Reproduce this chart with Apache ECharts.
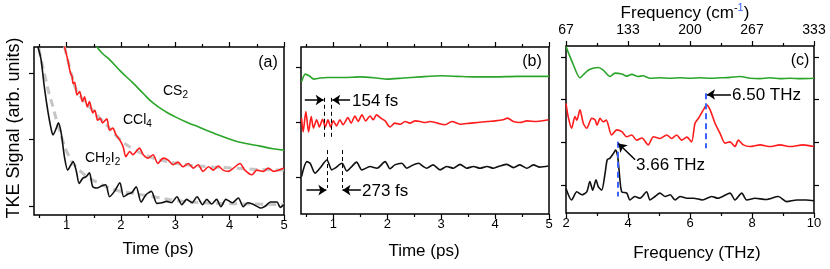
<!DOCTYPE html>
<html><head><meta charset="utf-8">
<script src="https://cdn.jsdelivr.net/npm/echarts@6/dist/echarts.min.js"></script>
<style>html,body{margin:0;padding:0;background:#fff}#c{width:830px;height:269px}</style>
</head><body><div id="c"></div>
<script>
const FONT = '"Liberation Sans", Arial, sans-serif';
// tick values / labels
const timeTicks = [1, 2, 3, 4, 5];
const timeMinor = [0.5, 1.5, 2.5, 3.5, 4.5];
const freqTicks = [2, 4, 6, 8, 10];
const freqMinor = [3, 5, 7, 9];
const cmLabels = ['67', '133', '200', '267', '333'];
const aYTicks = [0, 1, 2];
const bYTicks = [0, 1, 2];
const cYTicks = [0, 1, 2, 3];

// ---- panel (a): TKE signal vs time (ps)
const aCS2 = [[1.55,2.40],[1.65,2.30],[1.79,2.20],[2.0,2.02],[2.22,1.85],[2.4,1.70],[2.59,1.55],[2.84,1.41],[3.0,1.34],[3.21,1.26],[3.45,1.18],[3.69,1.10],[4.06,0.99],[4.3,0.94],[4.56,0.90],[4.8,0.86],[5.0,0.84]];
const aCCl4 = [[0.96,2.40],[1.02,2.20],[1.07,2.00],[1.10,1.95],[1.12,1.84],[1.15,1.86],[1.19,1.67],[1.24,1.72],[1.29,1.57],[1.33,1.64],[1.38,1.49],[1.42,1.57],[1.48,1.40],[1.52,1.44],[1.57,1.29],[1.62,1.32],[1.66,1.25],[1.74,1.31],[1.79,1.14],[1.85,1.17],[1.91,1.07],[1.98,0.99],[2.04,0.89],[2.09,0.74],[2.16,0.82],[2.22,0.77],[2.28,0.82],[2.34,0.87],[2.41,0.77],[2.50,0.72],[2.59,0.77],[2.68,0.64],[2.78,0.72],[2.87,0.69],[2.96,0.62],[3.05,0.66],[3.14,0.59],[3.24,0.64],[3.33,0.57],[3.42,0.62],[3.51,0.52],[3.61,0.59],[3.70,0.54],[3.79,0.60],[3.88,0.54],[3.98,0.52],[4.07,0.57],[4.19,0.64],[4.28,0.54],[4.41,0.47],[4.50,0.54],[4.62,0.52],[4.71,0.57],[4.81,0.52],[4.91,0.54],[5.00,0.57]];
const aCH2I2 = [[0.47,2.40],[0.53,2.20],[0.59,1.79],[0.66,1.40],[0.72,1.14],[0.75,1.07],[0.81,1.17],[0.85,1.25],[0.90,1.10],[0.96,0.74],[1.02,0.54],[1.08,0.62],[1.12,0.67],[1.18,0.52],[1.23,0.34],[1.30,0.42],[1.36,0.44],[1.42,0.50],[1.48,0.29],[1.56,0.27],[1.64,0.30],[1.72,0.32],[1.79,0.14],[1.88,0.22],[1.98,0.35],[2.05,0.14],[2.13,0.18],[2.20,0.20],[2.28,0.29],[2.37,0.06],[2.46,0.17],[2.56,0.22],[2.66,0.04],[2.75,0.05],[2.84,0.07],[2.93,0.05],[3.03,0.14],[3.12,0.02],[3.21,0.10],[3.31,0.05],[3.40,0.14],[3.50,0.02],[3.58,0.10],[3.67,0.03],[3.76,0.10],[3.84,-0.01],[3.93,0.10],[4.05,0.05],[4.16,0.12],[4.25,-0.01],[4.33,0.05],[4.42,0.03],[4.58,-0.03],[4.66,0.00],[4.75,0.06],[4.87,0.06],[4.93,-0.02],[5.00,0.02]];
const aFitCCl4 = [[0.96,2.40],[1.02,2.20],[1.10,1.95],[1.17,1.76],[1.30,1.60],[1.42,1.49],[1.60,1.33],[1.73,1.22],[1.98,1.00],[2.22,0.86],[2.53,0.74],[2.84,0.67],[3.2,0.62],[3.6,0.59],[4.07,0.57],[4.5,0.55],[5.0,0.54]];
const aFitCH2I2 = [[0.49,2.37],[0.55,2.13],[0.62,1.89],[0.68,1.68],[0.75,1.49],[0.81,1.30],[0.87,1.14],[0.93,0.98],[0.99,0.84],[1.05,0.74],[1.12,0.64],[1.21,0.56],[1.30,0.49],[1.40,0.43],[1.48,0.39],[1.60,0.34],[1.73,0.29],[1.95,0.23],[2.22,0.19],[2.59,0.14],[3.14,0.07],[3.76,0.04],[4.4,0.03],[5.0,0.02]];

// ---- panel (b): oscillatory part vs time (ps)
const bCS2 = [[0.41,1.73],[0.48,1.87],[0.55,1.84],[0.64,1.78],[0.75,1.80],[0.9,1.81],[1.2,1.81],[1.5,1.82],[1.8,1.80],[2.0,1.78],[2.3,1.80],[2.6,1.82],[3.0,1.84],[3.3,1.83],[3.6,1.82],[4.0,1.82],[4.4,1.83],[5.0,1.83]];
const bCCl4 = [[0.41,1.07],[0.44,0.82],[0.49,1.19],[0.54,0.82],[0.59,1.10],[0.63,0.89],[0.69,1.04],[0.74,0.91],[0.80,1.05],[0.85,0.91],[0.90,1.04],[0.95,0.91],[1.00,1.02],[1.06,0.93],[1.12,1.04],[1.18,0.95],[1.27,1.08],[1.33,0.98],[1.40,1.11],[1.46,1.01],[1.53,1.13],[1.60,1.02],[1.68,1.11],[1.74,1.04],[1.80,1.13],[1.88,1.07],[1.96,1.02],[2.05,0.91],[2.14,0.98],[2.24,0.96],[2.33,1.01],[2.42,0.98],[2.52,1.02],[2.61,1.01],[2.70,0.99],[2.79,1.01],[2.93,0.98],[3.07,0.95],[3.20,1.01],[3.35,0.96],[3.54,0.98],[3.68,0.99],[3.85,1.01],[4.00,1.02],[4.15,1.04],[4.23,1.07],[4.34,1.01],[4.46,0.99],[4.59,1.02],[4.77,1.01],[4.99,1.04]];
const bCH2I2 = [[0.41,0.01],[0.51,0.28],[0.57,0.25],[0.66,0.07],[0.75,0.16],[0.88,0.31],[0.97,0.13],[1.03,0.16],[1.16,0.25],[1.25,0.11],[1.34,0.19],[1.43,0.27],[1.53,0.13],[1.68,0.19],[1.81,0.16],[1.96,0.28],[2.05,0.15],[2.14,0.22],[2.27,0.25],[2.36,0.16],[2.46,0.21],[2.58,0.25],[2.67,0.19],[2.73,0.16],[2.85,0.22],[2.98,0.13],[3.10,0.19],[3.23,0.16],[3.35,0.23],[3.47,0.16],[3.60,0.19],[3.72,0.16],[3.85,0.19],[3.97,0.16],[4.09,0.20],[4.22,0.23],[4.34,0.17],[4.46,0.22],[4.59,0.16],[4.71,0.22],[4.83,0.18],[4.99,0.20]];

// ---- panel (c): spectra vs frequency (THz)
const cCS2 = [[2.00,3.24],[2.24,2.81],[2.45,2.51],[2.61,2.62],[2.77,2.71],[3.04,2.75],[3.20,2.69],[3.42,2.54],[3.58,2.62],[3.80,2.60],[3.96,2.55],[4.12,2.59],[4.33,2.54],[4.48,2.56],[4.71,2.50],[5.03,2.51],[5.35,2.50],[5.68,2.51],[6.0,2.50],[6.32,2.51],[6.65,2.50],[6.97,2.51],[7.29,2.52],[7.61,2.54],[7.94,2.50],[8.26,2.49],[8.58,2.51],[8.90,2.49],[9.23,2.50],[9.55,2.49],[10.0,2.50]];
const cCCl4 = [[2.00,1.91],[2.07,1.60],[2.18,1.33],[2.29,1.60],[2.35,1.52],[2.45,1.76],[2.56,1.44],[2.67,1.33],[2.83,1.56],[2.94,1.52],[3.00,1.40],[3.10,1.56],[3.20,1.48],[3.30,1.52],[3.47,1.17],[3.64,1.29],[3.80,1.25],[3.96,1.13],[4.12,1.17],[4.28,1.05],[4.45,1.10],[4.65,0.94],[4.82,1.13],[5.03,1.09],[5.25,1.17],[5.41,1.09],[5.57,1.17],[5.73,1.05],[5.90,1.12],[6.05,1.01],[6.16,1.44],[6.27,1.56],[6.43,1.76],[6.54,1.87],[6.65,1.76],[6.81,1.44],[6.97,1.21],[7.13,0.98],[7.29,1.01],[7.45,0.90],[7.56,1.05],[7.72,0.94],[7.94,0.90],[8.26,0.94],[8.58,0.90],[8.90,0.94],[9.23,0.90],[9.65,0.94],[10.0,0.90]];
const cCH2I2 = [[2.00,-0.08],[2.18,-0.35],[2.35,-0.16],[2.51,-0.23],[2.67,-0.16],[2.77,0.08],[2.86,-0.12],[2.97,0.12],[3.04,-0.04],[3.15,-0.12],[3.26,0.27],[3.33,0.59],[3.42,0.63],[3.53,0.74],[3.60,0.82],[3.67,0.66],[3.74,0.12],[3.80,-0.16],[3.96,-0.19],[4.06,-0.35],[4.22,-0.27],[4.39,-0.31],[4.60,-0.16],[4.71,-0.35],[4.87,-0.27],[5.03,-0.19],[5.20,-0.27],[5.36,-0.23],[5.52,-0.35],[5.68,-0.27],[5.90,-0.31],[6.11,-0.31],[6.40,-0.35],[6.70,-0.27],[6.90,-0.31],[7.29,-0.19],[7.45,-0.35],[7.67,-0.19],[7.83,-0.35],[8.10,-0.31],[8.45,-0.34],[8.85,-0.27],[9.12,-0.39],[9.45,-0.35],[9.75,-0.35],[10.0,-0.37]];

// annotations (data units)
const bPeriod154 = [0.83, 0.97];
const bPeriod273 = [0.88, 1.16];
const cPeak1 = 3.66;
const cPeak2 = 6.50;

const BLACK = '#111', RED = '#ff1c1c', GREEN = '#2aa52a', GRAY = '#c6c6c6', BLUE = '#3c63ff';

const grids = [
  {left: 34, top: 47, width: 250, height: 168},
  {left: 301, top: 47, width: 248, height: 167},
  {left: 566, top: 46, width: 248, height: 167}
].map(g => Object.assign(g, {show: true, borderColor: '#000', borderWidth: 1.5, backgroundColor: 'transparent', containLabel: false, outerBoundsMode: 'none'}));

const xAxes = [], yAxes = [];
function xAx(grid, min, max, pos, ticks, len, labelOpt) {
  xAxes.push({
    type: 'value', gridIndex: grid, min: min, max: max, position: pos,
    axisLine: {show: false, onZero: false}, splitLine: {show: false},
    axisTick: {show: true, customValues: ticks, length: len, inside: false, lineStyle: {color: '#000', width: 1.2}},
    axisLabel: labelOpt ? Object.assign({show: true, customValues: ticks, color: '#000', fontFamily: FONT}, labelOpt) : {show: false}
  });
  return xAxes.length - 1;
}
function yAx(grid, min, max, pos, ticks) {
  yAxes.push({
    type: 'value', gridIndex: grid, min: min, max: max, position: pos,
    axisLine: {show: false, onZero: false}, splitLine: {show: false},
    axisTick: {show: true, customValues: ticks, length: 5, inside: false, lineStyle: {color: '#000', width: 1.2}},
    axisLabel: {show: false}
  });
  return yAxes.length - 1;
}
// panel a
const xa = xAx(0, 0.4, 5, 'bottom', timeTicks, 5, {fontSize: 13, margin: 4});
xAx(0, 0.4, 5, 'bottom', timeMinor, 3);
xAx(0, 0.4, 5, 'top', timeTicks, 5);
xAx(0, 0.4, 5, 'top', timeMinor, 3);
const ya = yAx(0, -0.135, 2.39, 'left', aYTicks);
// panel b
const xb = xAx(1, 0.4, 5, 'bottom', timeTicks, 5, {fontSize: 13, margin: 4});
xAx(1, 0.4, 5, 'bottom', timeMinor, 3);
xAx(1, 0.4, 5, 'top', timeTicks, 5);
xAx(1, 0.4, 5, 'top', timeMinor, 3);
const yb = yAx(1, -0.673, 2.364, 'left', bYTicks);
// panel c
const xc = xAx(2, 2, 10, 'bottom', freqTicks, 5, {fontSize: 13, margin: 4});
xAx(2, 2, 10, 'bottom', freqMinor, 3);
xAx(2, 2, 10, 'top', freqTicks, 5, {fontSize: 14, margin: 9, formatter: v => cmLabels[freqTicks.indexOf(v)]});
xAx(2, 2, 10, 'top', freqMinor, 3);
const yc = yAx(2, -0.656, 3.255, 'left', cYTicks);
yAx(2, -0.656, 3.255, 'right', cYTicks);

function line(xi, yi, data, color, width, z, extra) {
  return Object.assign({
    type: 'line', xAxisIndex: xi, yAxisIndex: yi, data: data, showSymbol: false, symbol: 'none',
    smooth: 0.25, z: z, silent: true, animation: false,
    lineStyle: {color: color, width: width}
  }, extra || {});
}
const dashBlack = {type: [4, 3], color: '#000', width: 1};
const arrowStyle = {type: 'solid', color: '#000', width: 1.5};
function seg(p1, p2, style, arrow) {
  return [{coord: p1, symbol: 'none', lineStyle: style}, {coord: p2, symbol: arrow ? 'arrow' : 'none', symbolSize: 8}];
}

const LW = 1.6;
const series = [
  line(xa, ya, aFitCCl4, GRAY, 3, 1, {lineStyle: {color: GRAY, width: 3, type: [8, 5]}, smooth: 0.4}),
  line(xa, ya, aFitCH2I2, GRAY, 3, 1, {lineStyle: {color: GRAY, width: 3, type: [8, 5]}, smooth: 0.4}),
  line(xa, ya, aCS2, GREEN, LW, 3, {smooth: 0.5}),
  line(xa, ya, aCCl4, RED, LW, 3),
  line(xa, ya, aCH2I2, BLACK, LW, 3),
  line(xb, yb, bCS2, GREEN, LW, 3),
  line(xb, yb, bCCl4, RED, LW, 3),
  line(xb, yb, bCH2I2, BLACK, LW, 3, {
    markLine: {silent: true, animation: false, label: {show: false}, emphasis: {disabled: true},
      data: [
        seg([bPeriod154[0], 1.44], [bPeriod154[0], 0.71], dashBlack),
        seg([bPeriod154[1], 1.44], [bPeriod154[1], 0.71], dashBlack),
        seg([0.47, 1.40], [bPeriod154[0] - 0.01, 1.40], arrowStyle, true),
        seg([1.31, 1.40], [bPeriod154[1] + 0.01, 1.40], arrowStyle, true),
        seg([bPeriod273[0], 0.49], [bPeriod273[0], -0.20], dashBlack),
        seg([bPeriod273[1], 0.49], [bPeriod273[1], -0.20], dashBlack),
        seg([0.50, -0.24], [bPeriod273[0] - 0.01, -0.24], arrowStyle, true),
        seg([1.51, -0.24], [bPeriod273[1] + 0.01, -0.24], arrowStyle, true)
      ]}
  }),
  line(xc, yc, cCS2, GREEN, LW, 3),
  line(xc, yc, cCCl4, RED, LW, 3),
  line(xc, yc, cCH2I2, BLACK, LW, 3, {
    markLine: {silent: true, animation: false, label: {show: false}, emphasis: {disabled: true},
      data: [
        seg([cPeak1, 1.01], [cPeak1, -0.27], {type: [6, 4], color: BLUE, width: 2}),
        seg([cPeak2, 2.15], [cPeak2, 0.86], {type: [6, 4], color: BLUE, width: 2}),
        seg([4.23, 0.59], [cPeak1 + 0.03, 0.97], arrowStyle, true),
        seg([7.32, 2.12], [cPeak2 + 0.05, 2.12], arrowStyle, true)
      ]}
  })
];

const graphic = [];
const mctx = document.createElement('canvas').getContext('2d');
function txt(x, y, text, size, align, rot, color) {
  const o = {type: 'text', x: x, y: y, z: 50, silent: true,
    style: {text: text, fontSize: size, fontFamily: FONT, fill: color || '#000', align: align, verticalAlign: 'middle', textAlign: align, textVerticalAlign: 'middle'}};
  if (rot) o.rotation = rot;
  graphic.push(o);
}
// runs of text with sub/superscripts: parts = [text, size, dy, color]
function runs(x, y, parts, align) {
  const w = parts.map(p => { mctx.font = p[1] + 'px ' + FONT; return mctx.measureText(p[0]).width; });
  const total = w.reduce((a, b) => a + b, 0);
  let cx = align === 'center' ? x - total / 2 : x;
  parts.forEach((p, i) => { txt(cx, y + p[2], p[0], p[1], 'left', 0, p[3]); cx += w[i]; });
}

txt(14, 128, 'TKE Signal (arb. units)', 18, 'center', Math.PI / 2);
txt(158, 249, 'Time (ps)', 17, 'center');
txt(424, 251, 'Time (ps)', 17, 'center');
txt(697, 253, 'Frequency (THz)', 17, 'center');
runs(685, 13, [['Frequency (cm', 17, 0], ['-', 11, -5], ['1', 11, -5, BLUE], [')', 17, 0]], 'center');
txt(268, 63, '(a)', 16, 'center');
txt(532, 62, '(b)', 16, 'center');
txt(800, 61, '(c)', 16, 'center');
runs(163, 91, [['CS', 14, 0], ['2', 10, 4.5]], 'left');
runs(123, 120, [['CCl', 14, 0], ['4', 10, 4.5]], 'left');
runs(85, 158, [['CH', 14, 0], ['2', 10, 4.5], ['I', 14, 0], ['2', 10, 4.5]], 'left');
txt(352, 101, '154 fs', 17, 'left');
txt(362, 191, '273 fs', 17, 'left');
txt(636, 165, '3.66 THz', 17, 'left');
txt(732, 95, '6.50 THz', 17, 'left');

const chart = echarts.init(document.getElementById('c'), null, {renderer: 'canvas'});
chart.setOption({
  backgroundColor: '#fff', animation: false,
  grid: grids, xAxis: xAxes, yAxis: yAxes, series: series, graphic: graphic
});
</script></body></html>
